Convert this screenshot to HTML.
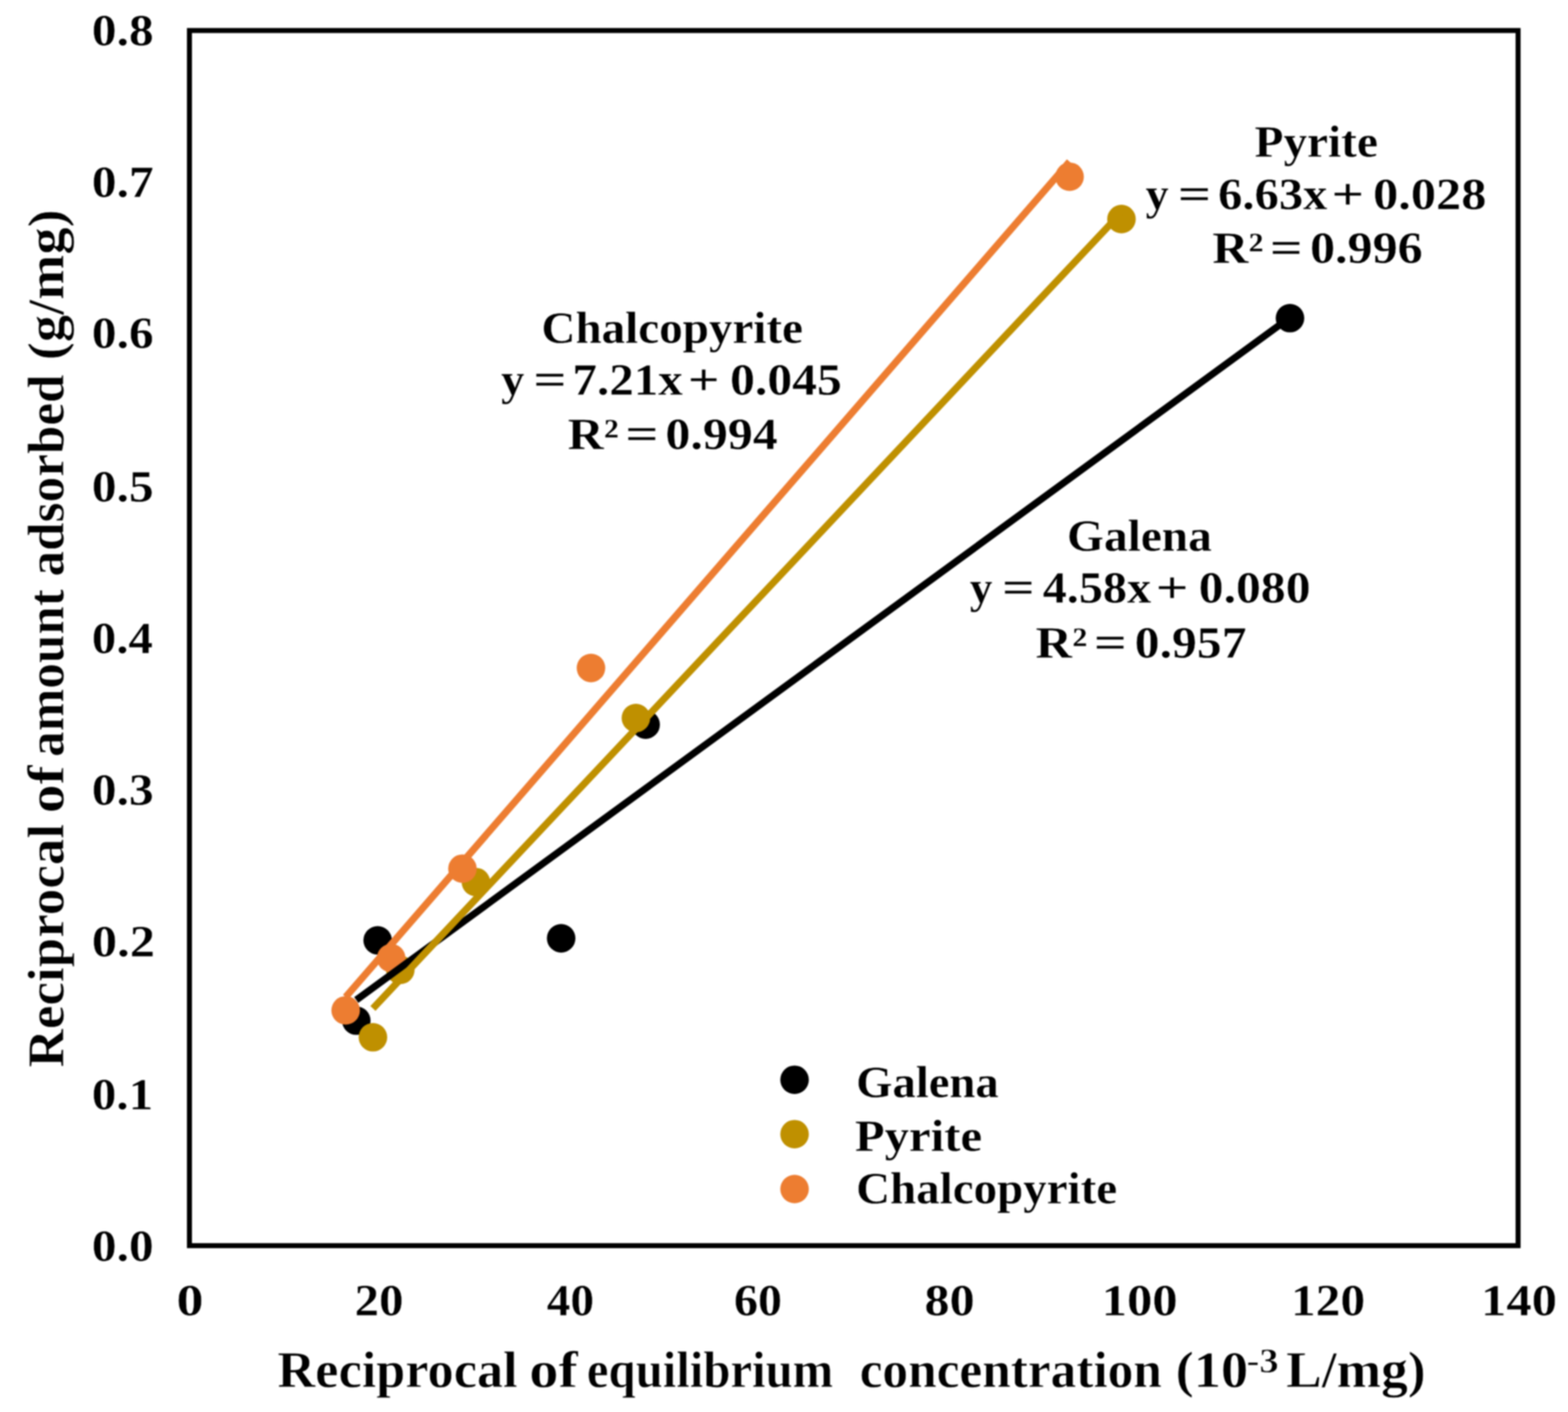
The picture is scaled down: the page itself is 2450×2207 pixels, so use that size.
<!DOCTYPE html>
<html lang="en">
<head>
<meta charset="utf-8">
<title>Chart</title>
<style>
html,body{margin:0;padding:0;background:#fff;}
body{width:2450px;height:2207px;overflow:hidden;}
svg{display:block;filter:blur(0.9px);}
text{font-family:"Liberation Serif", "Times New Roman", Times, serif;font-weight:bold;fill:#000;stroke:#fff;stroke-width:0.4px;stroke-linejoin:round;}
.tick,.lab{font-size:69.5px;}
.title{font-size:80px;stroke-width:0.8px;}
</style>
</head>
<body>
<svg width="2450" height="2207" viewBox="0 0 2450 2207">
<g id="chart">
<rect x="0" y="0" width="2450" height="2207" fill="#ffffff"/>

<g id="markers">
<circle cx="556.7" cy="1595.3" r="22.3" fill="#000000"/>
<circle cx="590.1" cy="1469.8" r="22.3" fill="#000000"/>
<circle cx="876.8" cy="1466.6" r="22.3" fill="#000000"/>
<circle cx="1008.8" cy="1132.6" r="22.3" fill="#000000"/>
<circle cx="2015.6" cy="497.3" r="22.3" fill="#000000"/>
<circle cx="582.7" cy="1621.3" r="22.3" fill="#BF9000"/>
<circle cx="625.5" cy="1516.0" r="22.3" fill="#BF9000"/>
<circle cx="743.6" cy="1378.7" r="22.3" fill="#BF9000"/>
<circle cx="993.6" cy="1122.3" r="22.3" fill="#BF9000"/>
<circle cx="1752.3" cy="342.4" r="22.3" fill="#BF9000"/>
<circle cx="540.1" cy="1579.2" r="22.3" fill="#ED7D31"/>
<circle cx="611.2" cy="1497.5" r="22.3" fill="#ED7D31"/>
<circle cx="722.6" cy="1357.7" r="22.3" fill="#ED7D31"/>
<circle cx="923.4" cy="1044.1" r="22.3" fill="#ED7D31"/>
<circle cx="1671.2" cy="276.2" r="22.3" fill="#ED7D31"/>
</g>
<g id="trendlines">
<line x1="556.7" y1="1563.0" x2="2015.6" y2="496.1" stroke="#000000" stroke-width="11" stroke-linecap="butt"/>
<line x1="582.7" y1="1576.2" x2="1750.8" y2="333.5" stroke="#BF9000" stroke-width="11" stroke-linecap="butt"/>
<line x1="540.1" y1="1558.4" x2="1671.2" y2="252.7" stroke="#ED7D31" stroke-width="11" stroke-linecap="butt"/>
</g>
<rect x="296.0" y="47.7" width="2076.0" height="1899.3" fill="none" stroke="#000" stroke-width="7.8"/>
<g id="yticks" class="tick">
<text x="143.6" y="1970.6" textLength="96.4" lengthAdjust="spacingAndGlyphs">0.0</text>
<text x="143.6" y="1734.0" textLength="95.6" lengthAdjust="spacingAndGlyphs">0.1</text>
<text x="143.5" y="1494.9" textLength="98.7" lengthAdjust="spacingAndGlyphs">0.2</text>
<text x="143.6" y="1257.6" textLength="96.4" lengthAdjust="spacingAndGlyphs">0.3</text>
<text x="143.6" y="1020.8" textLength="95.2" lengthAdjust="spacingAndGlyphs">0.4</text>
<text x="143.6" y="784.2" textLength="96.4" lengthAdjust="spacingAndGlyphs">0.5</text>
<text x="143.6" y="543.6" textLength="96.4" lengthAdjust="spacingAndGlyphs">0.6</text>
<text x="143.6" y="307.5" textLength="96.4" lengthAdjust="spacingAndGlyphs">0.7</text>
<text x="143.6" y="70.7" textLength="96.4" lengthAdjust="spacingAndGlyphs">0.8</text>
</g>
<g id="xticks" class="tick">
<text x="275.8" y="2055.5" textLength="42.3" lengthAdjust="spacingAndGlyphs">0</text>
<text x="554.1" y="2055.5" textLength="76.4" lengthAdjust="spacingAndGlyphs">20</text>
<text x="854.3" y="2055.5" textLength="74.0" lengthAdjust="spacingAndGlyphs">40</text>
<text x="1146.7" y="2055.5" textLength="75.3" lengthAdjust="spacingAndGlyphs">60</text>
<text x="1444.5" y="2055.5" textLength="78.3" lengthAdjust="spacingAndGlyphs">80</text>
<text x="1721.4" y="2055.5" textLength="118.5" lengthAdjust="spacingAndGlyphs">100</text>
<text x="2017.3" y="2055.5" textLength="115.7" lengthAdjust="spacingAndGlyphs">120</text>
<text x="2314.1" y="2055.5" textLength="118.7" lengthAdjust="spacingAndGlyphs">140</text>
</g>
<g id="annotations" class="lab">
<text x="846.0" y="536.1" textLength="408.7" lengthAdjust="spacingAndGlyphs">Chalcopyrite</text>
<text y="617.3"><tspan x="783.0" textLength="36.4" lengthAdjust="spacingAndGlyphs">y</tspan> <tspan x="833.3" textLength="52.1" lengthAdjust="spacingAndGlyphs">=</tspan> <tspan x="894.6" textLength="172.2" lengthAdjust="spacingAndGlyphs">7.21x</tspan> <tspan x="1074.5" textLength="50.0" lengthAdjust="spacingAndGlyphs">+</tspan> <tspan x="1140.7" textLength="174.6" lengthAdjust="spacingAndGlyphs">0.045</tspan></text>
<text y="702.0"><tspan x="887.1" textLength="79.8" lengthAdjust="spacingAndGlyphs">R²</tspan> <tspan x="976.8" textLength="52.4" lengthAdjust="spacingAndGlyphs">=</tspan> <tspan x="1039.7" textLength="175.5" lengthAdjust="spacingAndGlyphs">0.994</tspan></text>
<text x="1960.3" y="245.2" textLength="192.7" lengthAdjust="spacingAndGlyphs">Pyrite</text>
<text y="326.5"><tspan x="1790.0" textLength="36.0" lengthAdjust="spacingAndGlyphs">y</tspan> <tspan x="1840.3" textLength="52.4" lengthAdjust="spacingAndGlyphs">=</tspan> <tspan x="1903.3" textLength="170.7" lengthAdjust="spacingAndGlyphs">6.63x</tspan> <tspan x="2080.3" textLength="51.4" lengthAdjust="spacingAndGlyphs">+</tspan> <tspan x="2145.5" textLength="177.0" lengthAdjust="spacingAndGlyphs">0.028</tspan></text>
<text y="411.2"><tspan x="1894.3" textLength="79.8" lengthAdjust="spacingAndGlyphs">R²</tspan> <tspan x="1984.0" textLength="51.7" lengthAdjust="spacingAndGlyphs">=</tspan> <tspan x="2046.9" textLength="176.0" lengthAdjust="spacingAndGlyphs">0.996</tspan></text>
<text x="1667.3" y="861.3" textLength="226.3" lengthAdjust="spacingAndGlyphs">Galena</text>
<text y="942.2"><tspan x="1515.3" textLength="35.5" lengthAdjust="spacingAndGlyphs">y</tspan> <tspan x="1565.6" textLength="51.4" lengthAdjust="spacingAndGlyphs">=</tspan> <tspan x="1629.2" textLength="169.4" lengthAdjust="spacingAndGlyphs">4.58x</tspan> <tspan x="1805.4" textLength="51.6" lengthAdjust="spacingAndGlyphs">+</tspan> <tspan x="1873.1" textLength="174.6" lengthAdjust="spacingAndGlyphs">0.080</tspan></text>
<text y="1027.5"><tspan x="1618.1" textLength="80.9" lengthAdjust="spacingAndGlyphs">R²</tspan> <tspan x="1709.1" textLength="51.9" lengthAdjust="spacingAndGlyphs">=</tspan> <tspan x="1773.1" textLength="174.6" lengthAdjust="spacingAndGlyphs">0.957</tspan></text>
</g>
<g id="legend" class="lab">
<circle cx="1241.5" cy="1687.7" r="22.3" fill="#000000"/>
<text x="1337.7" y="1714.5" textLength="222.9" lengthAdjust="spacingAndGlyphs">Galena</text>
<circle cx="1241.5" cy="1772.7" r="22.3" fill="#BF9000"/>
<text x="1335.7" y="1799.4" textLength="198.8" lengthAdjust="spacingAndGlyphs">Pyrite</text>
<circle cx="1241.5" cy="1858.5" r="22.3" fill="#ED7D31"/>
<text x="1337.8" y="1880.8" textLength="407.7" lengthAdjust="spacingAndGlyphs">Chalcopyrite</text>
</g>
<text class="title" y="2167.8"><tspan x="433.6" textLength="375.2" lengthAdjust="spacingAndGlyphs">Reciprocal</tspan> <tspan x="827.0" textLength="76.0" lengthAdjust="spacingAndGlyphs">of</tspan> <tspan x="917.0" textLength="385.0" lengthAdjust="spacingAndGlyphs">equilibrium</tspan>  <tspan x="1343.2" textLength="472.2" lengthAdjust="spacingAndGlyphs">concentration</tspan> <tspan x="1837.0" textLength="113.3" lengthAdjust="spacingAndGlyphs">(10</tspan><tspan x="1947.8" y="2144.9" font-size="55" textLength="50.1" lengthAdjust="spacingAndGlyphs">-3</tspan> <tspan x="2009.5" y="2167.8" textLength="218.0" lengthAdjust="spacingAndGlyphs">L/mg)</tspan></text>
<text class="title" transform="translate(98.5,1666) rotate(-90)" y="0"><tspan x="-2.4" textLength="380.6" lengthAdjust="spacingAndGlyphs">Reciprocal</tspan> <tspan x="395.0" textLength="74.6" lengthAdjust="spacingAndGlyphs">of</tspan> <tspan x="483.1" textLength="261.9" lengthAdjust="spacingAndGlyphs">amount</tspan> <tspan x="765.1" textLength="315.7" lengthAdjust="spacingAndGlyphs">adsorbed</tspan> <tspan x="1102.9" textLength="235.9" lengthAdjust="spacingAndGlyphs">(g/mg)</tspan></text>
</g>
</svg>
</body>
</html>
